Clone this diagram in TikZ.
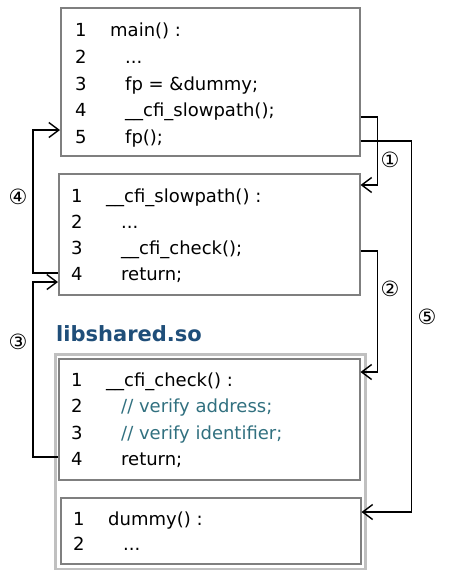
\documentclass[tikz,border=0pt]{standalone}
\usepackage{fontspec}
\setmainfont{DejaVu Sans}
\usetikzlibrary{%
    arrows.meta,%
    positioning,%
    calc%
}
\definecolor{boxgray}{HTML}{7F7F7F}
\definecolor{libgray}{HTML}{C0C0C0}
\definecolor{libblue}{HTML}{1F4E79}
\definecolor{commentc}{HTML}{31707F}
\tikzset{
    codebox/.style = {draw = boxgray, line width = 1.5pt, rectangle, anchor = north west, inner sep = 0pt},
    codeline/.style = {anchor = base west, inner sep = 0pt, font = \fontsize{18}{20}\selectfont},
    flow/.style = {draw, line width = 1.4pt, -{Straight Barb[length=10pt,width=15pt]}},
    circnum/.style = {font = \fontsize{21}{22}\selectfont}
}
\newcommand{\lno}[1]{\makebox[35pt][l]{#1}}
\newcommand{\ind}{\hspace{15pt}}

\begin{document}
\begin{tikzpicture}[x=1pt, y=-1pt]
    \useasboundingbox (0,0) rectangle (455,570);
    % shared library frame
    \node[codebox, draw = libgray, line width = 3pt, minimum width = 310pt, minimum height = 215pt] (lib) at (53.5,353) {};
    \node[anchor = base west, inner sep = 0pt, text = libblue, font = \bfseries\fontsize{21}{24}\selectfont] (libname) at (56,341) {libshared.so};
    % code boxes
    \node[codebox, minimum width = 299pt, minimum height = 148pt] (main) at (60,7) {};
    \node[codebox, minimum width = 301pt, minimum height = 121pt] (slow) at (58,173) {};
    \node[codebox, minimum width = 301pt, minimum height = 121pt] (check) at (58,358) {};
    \node[codebox, minimum width = 300pt, minimum height = 66pt] (dummy) at (60,497) {};
    % main()
    \node[codeline] (m1) at (75,36) {\lno{1}main() :};
    \node[codeline] (m2) at (75,63) {\lno{2}\ind ...};
    \node[codeline] (m3) at (75,90) {\lno{3}\ind fp = \&dummy;};
    \node[codeline] (m4) at (75,116) {\lno{4}\ind \_\_cfi\_slowpath();};
    \node[codeline] (m5) at (75,143) {\lno{5}\ind fp();};
    % __cfi_slowpath()
    \node[codeline] (s1) at (71,202) {\lno{1}\_\_cfi\_slowpath() :};
    \node[codeline] (s2) at (71,228) {\lno{2}\ind ...};
    \node[codeline] (s3) at (71,254) {\lno{3}\ind \_\_cfi\_check();};
    \node[codeline] (s4) at (71,280) {\lno{4}\ind return;};
    % __cfi_check()
    \node[codeline] (c1) at (71,386) {\lno{1}\_\_cfi\_check() :};
    \node[codeline] (c2) at (71,412) {\lno{2}\ind \textcolor{commentc}{// verify address;}};
    \node[codeline] (c3) at (71,439) {\lno{3}\ind \textcolor{commentc}{// verify identifier;}};
    \node[codeline] (c4) at (71,465) {\lno{4}\ind return;};
    % dummy()
    \node[codeline] (d1) at (73,525) {\lno{1}dummy() :};
    \node[codeline] (d2) at (73,550) {\lno{2}\ind ...};
    % control flow
    \draw[flow] ([yshift=-1pt]main.east |- m4.base) -- ++(17,0) |- ([yshift=-12pt]slow.north east);
    \draw[flow] ([yshift=2pt]main.east |- m5.base) -- ++(51,0) |- ([yshift=-15pt]dummy.north east);
    \draw[flow] ([yshift=3pt]slow.east |- s3.base) -- ++(17,0) |- ([yshift=-14pt]check.north east);
    \draw[flow] ([yshift=7pt]slow.west |- s4.base) -- ++(-25,0) |- ([yshift=13pt]main.west |- m5.base);
    \draw[flow] ([yshift=8pt]check.west |- c4.base) -- ++(-25,0) |- ([yshift=-2pt]slow.west |- s4.base);
    % step numbers
    \node[circnum] (n1) at (390,160) {①};
    \node[circnum] (n2) at (390,289) {②};
    \node[circnum] (n3) at (18,342) {③};
    \node[circnum] (n4) at (18,197) {④};
    \node[circnum] (n5) at (427,317) {⑤};
\end{tikzpicture}
\end{document}
